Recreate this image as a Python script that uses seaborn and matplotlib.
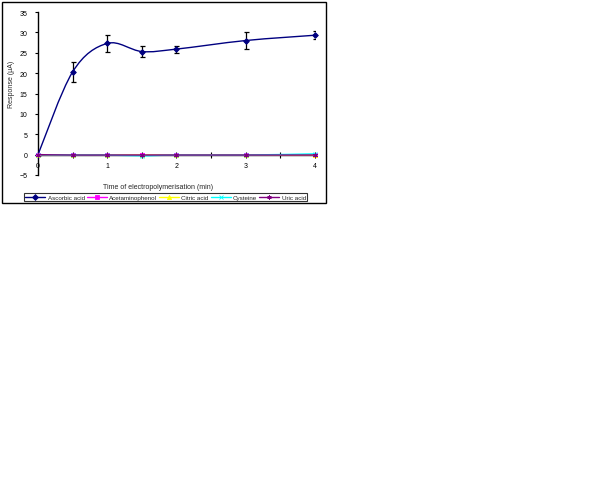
import numpy as np
import pandas as pd
import matplotlib
matplotlib.use("Agg")
import matplotlib.pyplot as plt
from matplotlib.path import Path
from matplotlib.patches import PathPatch, Rectangle
from matplotlib.lines import Line2D
import seaborn as sns

# Datos
tiempo = [0, 0.5, 1, 1.5, 2, 3, 4]
ascorbico = [0, 20.3, 27.3, 25.3, 25.9, 28.0, 29.3]
ascorbico_err = [0, 2.5, 2.0, 1.45, 0.85, 2.0, 1.0]
acetaminofenol = [0, -0.1, -0.1, -0.1, -0.1, -0.1, -0.1]
citrico = [0, -0.1, -0.1, -0.1, -0.1, -0.1, -0.1]
cisteina = [0, -0.1, -0.1, -0.3, -0.1, -0.1, 0.2]
urico = [0, -0.1, -0.1, -0.1, -0.1, -0.1, -0.1]

nombres = ["Ascorbic acid", "Acetaminophenol", "Citric acid", "Cysteine", "Uric acid"]
series = [ascorbico, acetaminofenol, citrico, cisteina, urico]
colores = ["#000080", "#FF00FF", "#FFFF00", "#00FFFF", "#800080"]
marcadores = ["D", "s", "^", "x", (6, 2, 0)]

sns.set_style("white")
plt.rcParams["font.family"] = ["Liberation Sans", "DejaVu Sans"]


def curva_suave(x, y):
    # curva de Bezier tipo Excel (Catmull-Rom)
    p = np.column_stack([x, y]).astype(float)
    n = len(p)
    verts = [p[0]]
    codes = [Path.MOVETO]
    for i in range(n - 1):
        p0 = p[max(i - 1, 0)]
        p1 = p[i]
        p2 = p[i + 1]
        p3 = p[min(i + 2, n - 1)]
        verts += [p1 + (p2 - p0) / 6, p2 - (p3 - p1) / 6, p2]
        codes += [Path.CURVE4] * 3
    return Path(verts, codes)


fig = plt.figure(figsize=(6.12, 4.85), dpi=100)
ax = fig.add_axes([38 / 612, 1 - 176 / 485, 277 / 612, 163 / 485])

ax.errorbar(tiempo, ascorbico, yerr=ascorbico_err, fmt="none", ecolor="black",
            elinewidth=0.9, capsize=1.8, capthick=0.9, zorder=2.5)

for i, (nombre, vals) in enumerate(zip(nombres, series)):
    ax.add_patch(PathPatch(curva_suave(tiempo, vals), fill=False,
                           edgecolor=colores[i], lw=1.0, zorder=3 + 2 * i, clip_on=False))
    d = pd.DataFrame({"tiempo": tiempo, "respuesta": vals})
    sns.scatterplot(data=d, x="tiempo", y="respuesta", color=colores[i],
                    marker=marcadores[i], s=8, linewidth=0.7, edgecolor=colores[i],
                    ax=ax, zorder=4 + 2 * i, clip_on=False)

ax.set_xlim(0, 4)
ax.set_ylim(-5, 35)
ax.set_xticks([0, 1, 2, 3, 4])
ax.set_xticks([0.5, 1.5, 2.5, 3.5], minor=True)
ax.set_yticks(range(-5, 36, 5))

for s in ["top", "right"]:
    ax.spines[s].set_visible(False)
ax.spines["bottom"].set_position(("data", 0))
for s in ["left", "bottom"]:
    ax.spines[s].set_color("black")
    ax.spines[s].set_linewidth(1.0)

ax.tick_params(axis="x", which="both", direction="inout", length=4, width=0.8,
               colors="black", labelsize=5, pad=3, bottom=True)
ax.tick_params(axis="y", direction="out", length=2.5, width=0.8, colors="black",
               labelsize=5, pad=5, left=True)

ax.set_xlabel("Time of electropolymerisation (min)", fontsize=5)
ax.set_ylabel("Response (\u00b5A)", fontsize=5)
ax.xaxis.set_label_coords(0.433, -(184 - 176) / 163)
ax.yaxis.set_label_coords(-(38 - 15) / 277, 0.56)

handles = [Line2D([], [], color=c, marker=m, markersize=3, markeredgewidth=0.6,
                  markerfacecolor=c, markeredgecolor=c, lw=1.0)
           for c, m in zip(colores, marcadores)]
leg = fig.legend(handles, nombres, ncol=5, mode="expand", fontsize=4.5,
                 bbox_to_anchor=(24 / 612, 1 - 202 / 485, 283 / 612, 9 / 485),
                 loc="lower left", frameon=True, fancybox=False, borderpad=0.2,
                 handlelength=3.2, handletextpad=0.4, borderaxespad=0)
leg.get_frame().set_edgecolor("black")
leg.get_frame().set_linewidth(0.8)

# marco exterior del grafico
fig.patches.append(Rectangle((2 / 612, 1 - 204 / 485), 324 / 612, 201 / 485,
                             transform=fig.transFigure, fill=False,
                             edgecolor="black", lw=1.0))

plt.savefig("out.png", dpi=100)
